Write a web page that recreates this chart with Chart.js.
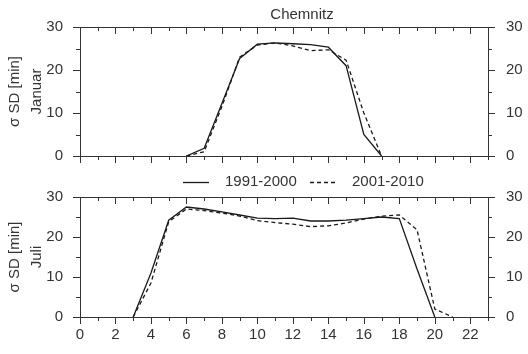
<!DOCTYPE html>
<html>
<head>
<meta charset="utf-8">
<script src="https://cdn.jsdelivr.net/npm/chart.js@4.4.1/dist/chart.umd.min.js"></script>
<style>
  html, body { margin: 0; padding: 0; background: #fff; }
  #wrap { position: relative; width: 528px; height: 354px; }
  canvas { position: absolute; left: 0; }
</style>
</head>
<body>
<div id="wrap">
  <canvas id="januar" width="528" height="183" style="top:0"></canvas>
  <canvas id="juli" width="528" height="184" style="top:170px"></canvas>
</div>
<script>
const stationName = 'Chemnitz';
const seriesLabels = ['1991-2000', '2001-2010'];
const yAxisUnit = 'σ SD [min]';

// hour of day, sigma of sunshine duration in minutes
const januarHours1991 = [6, 7, 8, 9, 10, 11, 12, 13, 14, 15, 16, 17];
const januar1991 = [0, 1.8, 12.2, 22.7, 26, 26.3, 26.1, 25.9, 25.3, 21, 5, 0];
const januarHours2001 = [6, 7, 8, 9, 10, 11, 12, 13, 14, 15, 16, 17];
const januar2001 = [0, 1, 11.5, 23, 25.8, 26.3, 25.6, 24.5, 24.7, 22.3, 10, 0];

const juliHours1991 = [3, 4, 5, 6, 7, 8, 9, 10, 11, 12, 13, 14, 15, 16, 17, 18, 19, 20];
const juli1991 = [0, 11, 24.2, 27.5, 27, 26.3, 25.5, 24.7, 24.6, 24.7, 24, 24, 24.2, 24.6, 25, 24.6, 12, 0];
const juliHours2001 = [3, 4, 5, 6, 7, 8, 9, 10, 11, 12, 13, 14, 15, 16, 17, 18, 19, 20, 21];
const juli2001 = [0, 8.5, 23.8, 27, 26.6, 26, 25.2, 24.1, 23.6, 23.2, 22.6, 22.8, 23.5, 24.5, 25.2, 25.5, 21.8, 2, 0];

const hourTicks = [0, 1, 2, 3, 4, 5, 6, 7, 8, 9, 10, 11, 12, 13, 14, 15, 16, 17, 18, 19, 20, 21, 22, 23];
const valueTicks = [0, 5, 10, 15, 20, 25, 30];

Chart.defaults.font.family = 'Liberation Sans, Arial, sans-serif';
Chart.defaults.font.size = 15;
Chart.defaults.color = '#333';

function points(hours, values) {
  return hours.map((h, i) => ({ x: h, y: values[i] }));
}

function lineSet(label, data, dash) {
  return {
    label: label,
    data: data,
    borderColor: '#1a1a1a',
    borderWidth: 1.3,
    borderDash: dash,
    pointRadius: 0,
    tension: 0,
    fill: false
  };
}

// frame with small inward/outward tick marks like the original plot
const framePlugin = {
  id: 'frame',
  afterDraw(chart) {
    const { ctx, chartArea: a, scales } = chart;
    ctx.save();
    ctx.strokeStyle = '#333';
    ctx.lineWidth = 1;
    ctx.strokeRect(Math.round(a.left) + 0.5, Math.round(a.top) + 0.5,
      Math.round(a.right - a.left), Math.round(a.bottom - a.top));
    ctx.beginPath();
    hourTicks.forEach(h => {
      const px = Math.round(scales.x.getPixelForValue(h)) + 0.5;
      const len = h % 2 === 0 ? 7 : 4;
      ctx.moveTo(px, a.top); ctx.lineTo(px, a.top + len);
      ctx.moveTo(px, a.bottom); ctx.lineTo(px, a.bottom + len);
    });
    valueTicks.forEach(v => {
      const py = Math.round(scales.y.getPixelForValue(v)) + 0.5;
      const len = v % 10 === 0 ? 7 : 4;
      ctx.moveTo(a.left - len, py); ctx.lineTo(a.left, py);
      ctx.moveTo(a.right, py); ctx.lineTo(a.right + len, py);
    });
    ctx.stroke();
    ctx.restore();
  }
};

const titlePlugin = {
  id: 'stationTitle',
  afterDraw(chart) {
    const ctx = chart.ctx;
    ctx.save();
    ctx.font = '15px Liberation Sans, Arial, sans-serif';
    ctx.fillStyle = '#333';
    ctx.textAlign = 'center';
    ctx.textBaseline = 'middle';
    ctx.fillText(stationName, 302, 15);
    ctx.restore();
  }
};

const legendPlugin = {
  id: 'lineLegend',
  afterDraw(chart) {
    const ctx = chart.ctx;
    const spots = [{ x0: 183, x1: 209, tx: 225 }, { x0: 310, x1: 335, tx: 352 }];
    const y = 12;
    ctx.save();
    chart.data.datasets.forEach((ds, i) => {
      const s = spots[i];
      ctx.strokeStyle = ds.borderColor;
      ctx.lineWidth = ds.borderWidth;
      ctx.setLineDash(ds.borderDash);
      ctx.beginPath();
      ctx.moveTo(s.x0, y + 0.5);
      ctx.lineTo(s.x1, y + 0.5);
      ctx.stroke();
      ctx.setLineDash([]);
      ctx.font = '15px Liberation Sans, Arial, sans-serif';
      ctx.fillStyle = '#333';
      ctx.textAlign = 'left';
      ctx.textBaseline = 'middle';
      ctx.fillText(ds.label, s.tx, y);
    });
    ctx.restore();
  }
};

function makeOptions(month, xLabelColor, padTop, xHeight) {
  return {
    responsive: false,
    animation: false,
    layout: { padding: { top: padTop, bottom: 0, left: 0, right: 0 } },
    plugins: { legend: { display: false }, tooltip: { enabled: false } },
    scales: {
      x: {
        type: 'linear', min: 0, max: 23,
        grid: { display: false, drawTicks: false },
        border: { display: false },
        ticks: { color: xLabelColor, stepSize: 2, includeBounds: false, padding: 9 },
        afterFit: s => { s.height = xHeight; }
      },
      y: {
        type: 'linear', min: 0, max: 30, position: 'left',
        grid: { display: false, drawTicks: false },
        border: { display: false },
        ticks: { stepSize: 10, padding: 17 },
        title: {
          display: true, text: [yAxisUnit, month],
          font: { size: 15, lineHeight: 1.47 },
          padding: { top: 4, bottom: 0 }
        },
        afterFit: s => { s.width = 80; }
      },
      y2: {
        type: 'linear', min: 0, max: 30, position: 'right',
        grid: { display: false, drawTicks: false },
        border: { display: false },
        ticks: { stepSize: 10, padding: 18 },
        afterFit: s => { s.width = 40; }
      }
    }
  };
}

// upper panel: January, no hour labels
new Chart(document.getElementById('januar'), {
  type: 'line',
  data: {
    datasets: [
      lineSet(seriesLabels[0], points(januarHours1991, januar1991), []),
      lineSet(seriesLabels[1], points(januarHours2001, januar2001), [4, 3])
    ]
  },
  options: makeOptions('Januar', 'rgba(0,0,0,0)', 27, 27),
  plugins: [framePlugin, titlePlugin]
});

// lower panel: July, with legend above it
new Chart(document.getElementById('juli'), {
  type: 'line',
  data: {
    datasets: [
      lineSet(seriesLabels[0], points(juliHours1991, juli1991), []),
      lineSet(seriesLabels[1], points(juliHours2001, juli2001), [4, 3])
    ]
  },
  options: makeOptions('Juli', '#333', 23, 37),
  plugins: [framePlugin, legendPlugin]
});
</script>
</body>
</html>
